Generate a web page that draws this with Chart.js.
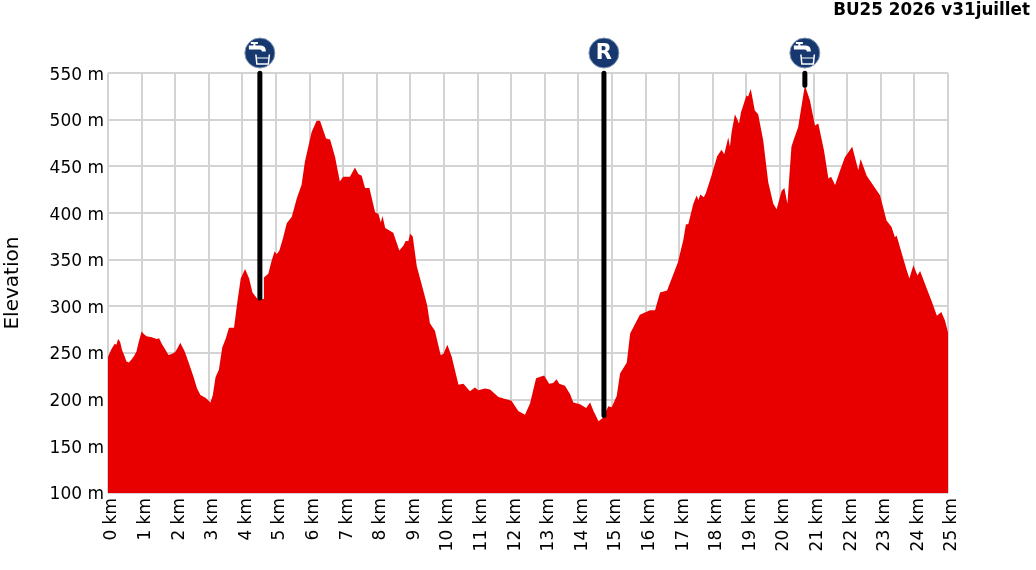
<!DOCTYPE html>
<html><head><meta charset="utf-8">
<style>html,body{margin:0;padding:0;background:#fff}canvas{display:block}</style>
<script src="https://cdn.jsdelivr.net/npm/chart.js@4"></script></head>
<body><canvas id="c" width="1036" height="570"></canvas>
<script>
const titleText = 'BU25 2026 v31juillet';
const axisTitle = 'Elevation';
const distanceKm = [0,.05,.1,.2,.25,.3,.36,.42,.48,.55,.62,.7,.78,.85,.9,1,1.08,1.15,1.3,1.45,1.52,1.6,1.7,1.8,1.9,2,2.08,2.15,2.28,2.4,2.55,2.65,2.75,2.9,3.05,3.12,3.2,3.3,3.4,3.5,3.6,3.75,3.85,3.95,4.08,4.2,4.3,4.45,4.52,4.62,4.64,4.77,4.87,4.96,5.02,5.1,5.2,5.32,5.47,5.62,5.76,5.86,6.06,6.21,6.31,6.49,6.61,6.76,6.9,7,7.2,7.35,7.45,7.55,7.65,7.78,7.95,8.05,8.12,8.17,8.25,8.49,8.67,8.79,8.86,8.94,8.99,9.07,9.19,9.4,9.5,9.58,9.73,9.9,9.98,10.1,10.23,10.43,10.58,10.77,10.92,11.02,11.22,11.37,11.62,12.01,12.21,12.41,12.56,12.74,12.98,13.13,13.25,13.35,13.43,13.6,13.75,13.85,14.05,14.23,14.35,14.45,14.6,14.74,14.89,14.99,15.14,15.24,15.44,15.54,15.64,15.83,16.13,16.28,16.43,16.64,16.96,17.12,17.2,17.27,17.42,17.52,17.57,17.63,17.73,17.79,17.96,18.13,18.26,18.34,18.46,18.51,18.56,18.66,18.78,18.84,19,19.05,19.13,19.25,19.35,19.5,19.65,19.8,19.9,20.05,20.13,20.22,20.34,20.41,20.54,20.74,20.89,21.04,21.14,21.31,21.44,21.52,21.64,21.79,21.93,22.15,22.33,22.4,22.58,22.98,23.17,23.32,23.42,23.47,23.67,23.77,23.85,23.97,24.09,24.17,24.39,24.52,24.67,24.8,24.91,25];
const elevationM = [246,250,254,260,259,265,262,253,248,241,240,243,247,252,260,273,270,268,267,265,266,260,254,248,249,251,256,261,252,240,224,212,205,202,197,205,224,232,256,265,277,277,305,330,340,330,315,308,309,308,331,335,349,359,356,360,372,389,396,416,430,455,487,499,499,480,479,460,434,439,439,449,442,440,427,427,401,399,390,397,384,379,360,365,370,370,378,375,343,315,301,282,274,248,249,259,246,216,217,209,213,210,212,211,203,199,188,184,196,223,226,217,218,222,217,215,206,197,195,191,197,188,177,181,193,192,204,228,240,271,278,291,296,296,315,317,347,371,388,388,410,419,414,420,417,421,440,461,468,463,481,471,487,506,496,508,526,525,533,510,506,478,433,410,404,424,427,410,471,479,492,537,521,494,496,467,437,439,430,446,460,471,446,458,440,419,392,385,374,376,351,339,330,344,333,338,317,305,290,294,285,272];
const pinKm = [4.52, 14.76, 20.74];
const pinElevation = [309, 183, 537];
const pinIcons = ['water', 'R', 'water'];
const xTicks = [0,1,2,3,4,5,6,7,8,9,10,11,12,13,14,15,16,17,18,19,20,21,22,23,24,25];
const yMin = 100, yMax = 550, yStep = 50;

const line = (xs, ys) => xs.map((x, i) => ({x, y: ys[i]}));
const pinSets = pinKm.map((k, i) => ({
  data: [{x: k, y: yMax}, {x: k, y: pinElevation[i]}],
  borderColor: '#000', borderWidth: 5, borderCapStyle: 'round',
  pointRadius: 0, fill: false, clip: false, order: 0
}));

function drawWater(ctx) {
  ctx.save();
  ctx.fillStyle = '#fff'; ctx.strokeStyle = '#fff';
  ctx.fillRect(-9, -11, 7, 2);
  ctx.fillRect(-6.5, -10, 2, 4);
  ctx.beginPath();
  ctx.moveTo(-11, -7.5); ctx.lineTo(1, -7.5); ctx.quadraticCurveTo(6, -7.5, 6, -1.5);
  ctx.lineTo(2, -1.5); ctx.quadraticCurveTo(2, -3.5, 0, -3.5); ctx.lineTo(-11, -3.5);
  ctx.closePath(); ctx.fill();
  ctx.lineWidth = 1.5;
  ctx.beginPath(); ctx.moveTo(-4, 1.5); ctx.lineTo(-3, 11); ctx.lineTo(8.5, 11); ctx.lineTo(9.5, 1.5); ctx.stroke();
  ctx.lineWidth = 1;
  ctx.beginPath(); ctx.moveTo(-3.5, 5); ctx.lineTo(9, 5); ctx.stroke();
  ctx.restore();
}
const iconPlugin = {
  id: 'pinIcons',
  afterDraw(chart) {
    const {ctx, scales: {x}} = chart;
    pinKm.forEach((k, i) => {
      const cx = x.getPixelForValue(k), cy = 53;
      ctx.save();
      ctx.translate(cx, cy);
      ctx.beginPath(); ctx.arc(0, 0, 15, 0, Math.PI * 2);
      ctx.fillStyle = '#16386f'; ctx.fill();
      ctx.lineWidth = 1; ctx.strokeStyle = '#7f95b5'; ctx.stroke();
      if (pinIcons[i] === 'water') drawWater(ctx);
      else {
        ctx.fillStyle = '#fff'; ctx.font = 'bold 21px "DejaVu Sans"';
        ctx.textAlign = 'center'; ctx.textBaseline = 'middle';
        ctx.fillText(pinIcons[i], 0, 1);
      }
      ctx.restore();
    });
  }
};

new Chart(document.getElementById('c'), {
  type: 'line',
  data: { datasets: [
    { data: line(distanceKm, elevationM), backgroundColor: '#e80000', borderColor: '#e80000',
      borderWidth: 0, pointRadius: 0, fill: 'start', tension: 0, order: 1 },
    ...pinSets
  ]},
  plugins: [iconPlugin],
  options: {
    responsive: false, animation: false, devicePixelRatio: 1,
    layout: { padding: { left: 1, right: 6, top: 0, bottom: 0 } },
    plugins: {
      legend: { display: false }, tooltip: { enabled: false },
      title: { display: true, text: titleText, align: 'end', color: '#000',
        font: { family: '"DejaVu Sans"', size: 16.8, weight: 'bold' }, padding: { top: 1, bottom: 52 } }
    },
    scales: {
      x: { type: 'linear', min: 0, max: 25, afterFit(s) { s.height = 77; },
        afterBuildTicks(s) { s.ticks = xTicks.map(v => ({value: v})); },
        grid: { color: '#d3d3d3', lineWidth: 2, drawTicks: false }, border: { display: false },
        ticks: { autoSkip: false, minRotation: 90, maxRotation: 90, padding: 5, labelOffset: 4, color: '#000',
          font: { family: '"DejaVu Sans"', size: 17 }, callback: v => v + ' km' } },
      y: { type: 'linear', min: yMin, max: yMax, afterFit(s) { s.width = 107; },
        grid: { color: '#d3d3d3', lineWidth: 2, drawTicks: false }, border: { display: false },
        ticks: { stepSize: yStep, padding: 4, labelOffset: 2, color: '#000',
          font: { family: '"DejaVu Sans"', size: 17 }, callback: v => v + ' m' },
        title: { display: true, text: axisTitle, color: '#000',
          font: { family: '"DejaVu Sans"', size: 20 }, padding: { top: 0, bottom: 0 } } },
      r: { type: 'linear', position: 'right', display: true, afterFit(s) { s.width = 82; },
        grid: { display: false, drawOnChartArea: false }, border: { display: false }, ticks: { display: false } }
    }
  }
});
</script></body></html>
